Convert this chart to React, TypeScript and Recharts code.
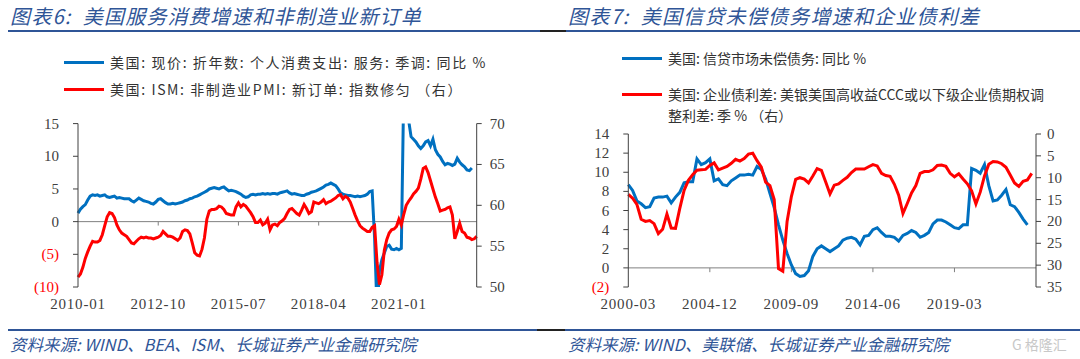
import React from 'react';
import { LineChart, Line, XAxis, YAxis, ReferenceLine } from 'recharts';

// ---------- Chart 6 (monthly, 2010-01 .. 2023-09) ----------
const monthCats: string[] = (() => {
  const out: string[] = [];
  for (let i = 0; i < 165; i++) {
    const y = 2010 + Math.floor(i / 12);
    const m = (i % 12) + 1;
    out.push(`${y}-${String(m).padStart(2, '0')}`);
  }
  return out;
})();

const pceServicesYoY = [
  1.3, 1.9, 2.3, 2.6, 3.3, 3.9, 4.1, 4.0, 4.1, 3.9,
  4.0, 4.1, 3.8, 3.7, 3.8, 3.9, 3.6, 3.7, 3.6, 3.5,
  3.5, 3.5, 3.2, 3.0, 3.3, 3.6, 3.4, 3.2, 3.1, 3.0,
  2.8, 2.7, 3.0, 3.4, 3.5, 3.2, 2.9, 2.7, 2.7, 2.8,
  2.7, 2.8, 2.9, 3.0, 3.2, 3.3, 3.5, 3.6, 3.8, 3.9,
  4.1, 4.3, 4.5, 4.7, 5.0, 5.1, 5.2, 5.1, 5.0, 5.2,
  5.3, 5.0, 4.7, 4.8, 4.7, 4.6, 4.4, 4.2, 3.9, 3.7,
  3.8, 4.1, 4.2, 4.1, 4.2, 4.2, 4.3, 4.2, 4.3, 4.2,
  4.3, 4.3, 4.2, 4.4, 4.5, 4.6, 4.7, 4.4, 4.2, 4.3,
  4.2, 4.1, 4.0, 4.0, 4.2, 4.3, 4.5, 4.6, 4.7, 4.9,
  5.1, 5.3, 5.6, 5.7, 5.9, 5.7, 5.5, 5.0, 4.4, 4.2,
  4.1, 4.0, 4.0, 3.9, 3.8, 3.9, 3.8, 3.9, 4.0, 4.2,
  4.6, 4.7, -2.5, -13.5, -7.5, -5.8, -4.8, -3.8, -3.6, -4.2,
  -4.3, -4.1, -4.3, -4.1, 20.5, 17.0, 15.5, 13.0, 12.6, 12.2,
  11.6, 11.2, 11.6, 12.2, 12.4, 11.6, 12.6, 11.0, 10.3, 9.9,
  9.2, 8.7, 8.9, 8.8, 8.6, 8.8, 9.7, 9.1, 8.7, 8.4,
  7.9, 7.8, 8.2,
];

const ismNonMfgNewOrders = [
  51.2, 51.6, 52.4, 53.5, 54.3, 55.0, 55.6, 55.5, 55.5, 55.7,
  56.4, 57.5, 58.6, 59.1, 59.0, 58.5, 57.6, 57.0, 56.6, 56.4,
  56.2, 55.8, 55.4, 55.3, 55.6, 55.9, 56.1, 56.0, 56.1, 56.0,
  56.0, 55.9, 56.0, 56.1, 56.3, 56.8, 56.5, 56.2, 56.2, 56.1,
  55.9, 55.7, 56.0, 56.8, 57.0, 56.9, 56.5, 55.4, 54.2, 53.9,
  53.8, 54.6, 56.0, 58.3, 59.3, 59.5, 59.5, 59.6, 59.9, 59.8,
  59.5, 59.0, 58.9, 58.8, 58.8, 59.8, 60.3, 59.8, 60.1, 59.9,
  59.5, 59.1, 58.6, 57.9, 57.9, 58.2, 57.6, 57.8, 58.3, 57.0,
  57.6, 57.7, 57.5, 57.9, 58.1, 58.4, 59.0, 59.5, 59.6, 59.3,
  59.0, 58.8, 59.4, 60.1, 59.6, 59.0, 59.2, 60.4, 60.3, 60.2,
  60.4, 60.7, 60.2, 60.4, 60.5, 60.7, 60.9, 61.2, 61.3, 60.8,
  61.1, 60.9, 60.4, 59.6, 58.8, 58.1, 57.5, 57.2, 57.0, 56.8,
  56.8, 57.3, 57.5, 53.0, 50.3, 51.5, 54.5, 55.8, 56.6, 57.0,
  57.1, 57.4, 58.3, 57.6, 58.9, 60.0, 60.5, 60.9, 61.4, 61.7,
  62.1, 63.2, 64.5, 64.7, 64.0, 63.0, 62.0, 61.0, 60.2, 59.3,
  59.4, 59.5, 59.7, 59.8, 58.8, 55.9, 56.8, 57.8, 56.8, 56.6,
  56.1, 56.0, 55.8, 55.9, 56.2,
];

const leftXTicks = ['2010-01', '2012-10', '2015-07', '2018-04', '2021-01'];
const leftYTicks = [-10, -5, 0, 5, 10, 15];
const leftY2Ticks = [50, 55, 60, 65, 70];

// ---------- Chart 7 (quarterly, 2000-03 .. 2023-12) ----------
const quarterCats: string[] = (() => {
  const out: string[] = [];
  for (let i = 0; i < 96; i++) {
    const y = 2000 + Math.floor(i / 4);
    const m = ((i % 4) + 1) * 3;
    out.push(`${y}-${String(m).padStart(2, '0')}`);
  }
  return out;
})();

const creditDebtYoY = [
  8.7, 8.1, 7.0, 6.7, 6.3, 6.4, 7.3, 7.4, 7.4, 7.5,
  6.8, 7.4, 7.9, 8.9, 9.0, 9.0, 11.4, 10.8, 11.0, 11.4,
  9.1, 9.3, 8.7, 8.6, 9.1, 9.4, 9.7, 9.7, 9.8, 9.7,
  10.6, 10.3, 9.3, 7.8, 6.3, 4.5, 2.9, 1.5, 0.3, -0.6,
  -0.9, -0.8, -0.3, 1.2, 2.0, 2.3, 2.0, 1.7, 2.0, 2.3,
  2.9, 3.1, 3.2, 3.0, 2.4, 3.3, 3.4, 4.0, 4.2, 3.7,
  3.3, 3.3, 3.2, 2.8, 3.4, 3.6, 3.9, 3.7, 3.2, 3.4,
  3.7, 4.6, 5.0, 5.0, 4.8, 4.5, 4.2, 4.1, 4.5, 4.5,
  10.4, 10.2, 9.9, 10.8, 8.6, 7.0, 7.1, 7.6, 8.2, 6.6,
  6.4, 5.8, 5.1, 4.5,
];

const cccSpread = [
  13.8, 14.7, 16.1, 19.5, 20.0, 19.8, 20.5, 22.8, 21.8, 18.3,
  21.5, 21.6, 17.0, 12.9, 10.6, 9.3, 8.3, 8.2, 8.1, 7.2,
  6.6, 8.2, 7.8, 7.4, 6.7, 5.8, 6.2, 5.6, 4.6, 4.4,
  6.1, 7.6, 11.0, 11.8, 15.0, 30.8, 31.4, 20.0, 14.3, 10.4,
  10.0, 10.3, 11.2, 9.6, 7.9, 8.3, 11.0, 13.7, 11.7, 11.4,
  10.6, 9.9, 8.8, 8.0, 8.0, 8.0, 7.5, 7.0, 7.3, 9.0,
  9.5, 9.7, 11.5, 14.0, 18.2, 15.9, 13.5, 11.8, 9.0, 8.6,
  8.6, 8.2, 7.2, 7.1, 7.4, 9.0, 9.8, 9.1, 10.3, 11.4,
  13.0, 16.0, 13.3, 9.6, 6.9, 6.3, 6.4, 6.8, 7.6, 9.4,
  11.2, 12.0, 10.8, 10.5, 9.0,
];

const rightXTicks = ['2000-03', '2004-12', '2009-09', '2014-06', '2019-03'];
const rightYTicks = [-2, 0, 2, 4, 6, 8, 10, 12, 14];
const rightY2Ticks = [0, 5, 10, 15, 20, 25, 30, 35];

const leftData = monthCats.map((d, i) => ({
  date: d,
  pce: i < pceServicesYoY.length ? pceServicesYoY[i] : null,
  ism: i < ismNonMfgNewOrders.length ? ismNonMfgNewOrders[i] : null,
}));

const rightData = quarterCats.map((d, i) => ({
  date: d,
  credit: i < creditDebtYoY.length ? creditDebtYoY[i] : null,
  ccc: i < cccSpread.length ? cccSpread[i] : null,
}));

const BLUE = '#0070C0';
const RED = '#FF0000';
const AXIS = '#404040';
const TITLE = '#2F5597';
const SERIF = "'Liberation Serif', 'Times New Roman', serif";
const CJK = "'Noto Sans CJK SC', sans-serif";

const fmtNeg = (v: number) => (v < 0 ? `(${Math.abs(v)})` : `${v}`);

const LeftYTick = (props: any) => {
  const { x, y, payload } = props;
  const v = payload.value as number;
  return (
    <text x={x} y={y} dy={5} textAnchor="end" fill={v < 0 ? RED : AXIS} fontSize={15} fontFamily={SERIF}>
      {fmtNeg(v)}
    </text>
  );
};

const RightYTick = (props: any) => {
  const { x, y, payload } = props;
  return (
    <text x={x} y={y} dy={5} textAnchor="start" fill={AXIS} fontSize={15} fontFamily={SERIF}>
      {payload.value}
    </text>
  );
};

const XTick = (props: any) => {
  const { x, y, payload } = props;
  return (
    <text x={x} y={y} dy={22} textAnchor="middle" fill={AXIS} fontSize={15} fontFamily={SERIF} letterSpacing={0.8}>
      {payload.value}
    </text>
  );
};

const LegendRow = ({ left, top, color, text, spacing }: { left: number; top: number; color: string; text: string; spacing: number }) => (
  <div style={{ position: 'absolute', left, top: top - 10, height: 20, display: 'flex', alignItems: 'center' }}>
    <div style={{ width: 40, height: 3, background: color, marginRight: 6 }} />
    <span style={{ fontFamily: CJK, fontSize: 14, color: '#333', whiteSpace: 'nowrap', lineHeight: '20px', letterSpacing: spacing }}>{text}</span>
  </div>
);

const titleStyle: React.CSSProperties = {
  position: 'absolute', top: 3, fontFamily: CJK, fontSize: 20, fontStyle: 'italic', color: TITLE,
  whiteSpace: 'nowrap', lineHeight: '26px', letterSpacing: 1.2, fontWeight: 400,
};

const footStyle: React.CSSProperties = {
  position: 'absolute', top: 332, fontFamily: CJK, fontSize: 16.5, fontStyle: 'italic', color: TITLE,
  whiteSpace: 'nowrap', lineHeight: '24px',
};

export default function App() {
  return (
    <div style={{ position: 'absolute', left: 0, top: 0, width: 1080, height: 359, background: '#fff', overflow: 'hidden' }}>
      {/* Titles */}
      <div style={{ ...titleStyle, left: 10 }}>图表6:&nbsp;&nbsp;美国服务消费增速和非制造业新订单</div>
      <div style={{ ...titleStyle, left: 568 }}>图表7:&nbsp;&nbsp;美国信贷未偿债务增速和企业债利差</div>
      <div style={{ position: 'absolute', left: 8, top: 30, width: 532, height: 2, background: TITLE }} />
      <div style={{ position: 'absolute', left: 540, top: 30, width: 26, height: 2, background: '#222' }} />
      <div style={{ position: 'absolute', left: 566, top: 30, width: 514, height: 2, background: TITLE }} />

      {/* Legends */}
      <LegendRow left={64} top={62} color={BLUE} spacing={1.6} text="美国: 现价: 折年数: 个人消费支出: 服务: 季调: 同比 %" />
      <LegendRow left={64} top={89} color={RED} spacing={1.6} text="美国: ISM: 非制造业PMI: 新订单: 指数修匀 （右）" />
      <LegendRow left={622} top={58} color={BLUE} spacing={0} text="美国: 信贷市场未偿债务: 同比 %" />
      <LegendRow left={622} top={94} color={RED} spacing={0} text="美国: 企业债利差: 美银美国高收益CCC或以下级企业债期权调" />
      <div style={{ position: 'absolute', left: 668, top: 105, height: 20, fontFamily: CJK, fontSize: 14, color: '#333', whiteSpace: 'nowrap', lineHeight: '20px' }}>
        整利差: 季 % （右）
      </div>

      {/* Left chart */}
      <div style={{ position: 'absolute', left: 0, top: 0 }}>
        <LineChart width={540} height={320} data={leftData} margin={{ top: 123.6, left: 38, right: 23.3, bottom: 3 }}>
          <XAxis dataKey="date" ticks={leftXTicks} interval={0} axisLine={false} tickLine={false} tickSize={0} tickMargin={0} height={30} tick={<XTick />} />
          <YAxis yAxisId="left" domain={[-10, 15]} ticks={leftYTicks} interval={0} allowDataOverflow width={40} axisLine={{ stroke: AXIS }} tickLine={{ stroke: AXIS }} tickSize={5} tickMargin={14} tick={<LeftYTick />} />
          <YAxis yAxisId="right" orientation="right" domain={[50, 70]} ticks={leftY2Ticks} interval={0} allowDataOverflow width={40} axisLine={{ stroke: AXIS }} tickLine={{ stroke: AXIS }} tickSize={5} tickMargin={8} tick={<RightYTick />} />
          <ReferenceLine yAxisId="left" y={0} stroke="#808080" strokeWidth={1} />
          {leftXTicks.slice(1).map((t) => (
            <ReferenceLine key={t} yAxisId="left" segment={[{ x: t, y: 0 }, { x: t, y: -0.6 }]} stroke="#808080" />
          ))}
          <Line yAxisId="left" dataKey="pce" stroke={BLUE} strokeWidth={3} dot={false} isAnimationActive={false} type="linear" />
          <Line yAxisId="right" dataKey="ism" stroke={RED} strokeWidth={3} dot={false} isAnimationActive={false} type="linear" />
        </LineChart>
      </div>

      {/* Right chart */}
      <div style={{ position: 'absolute', left: 540, top: 0 }}>
        <LineChart width={540} height={320} data={rightData} margin={{ top: 134, left: 48.3, right: 4, bottom: 3 }}>
          <XAxis dataKey="date" ticks={rightXTicks} interval={0} axisLine={false} tickLine={false} tickSize={0} tickMargin={0} height={30} tick={<XTick />} />
          <YAxis yAxisId="left" domain={[-2, 14]} ticks={rightYTicks} interval={0} allowDataOverflow width={40} axisLine={{ stroke: AXIS }} tickLine={{ stroke: AXIS }} tickSize={5} tickMargin={14} tick={<LeftYTick />} />
          <YAxis yAxisId="right" orientation="right" reversed domain={[0, 35]} ticks={rightY2Ticks} interval={0} allowDataOverflow width={40} axisLine={{ stroke: AXIS }} tickLine={{ stroke: AXIS }} tickSize={5} tickMargin={6} tick={<RightYTick />} />
          <ReferenceLine yAxisId="left" y={0} stroke="#808080" strokeWidth={1} />
          {rightXTicks.slice(1).map((t) => (
            <ReferenceLine key={t} yAxisId="left" segment={[{ x: t, y: 0 }, { x: t, y: -0.45 }]} stroke="#808080" />
          ))}
          <Line yAxisId="left" dataKey="credit" stroke={BLUE} strokeWidth={3} dot={false} isAnimationActive={false} type="linear" />
          <Line yAxisId="right" dataKey="ccc" stroke={RED} strokeWidth={3} dot={false} isAnimationActive={false} type="linear" />
        </LineChart>
      </div>

      {/* Footer */}
      <div style={{ position: 'absolute', left: 8, top: 329, width: 529, height: 2, background: TITLE }} />
      <div style={{ position: 'absolute', left: 537, top: 329, width: 28, height: 2, background: '#222' }} />
      <div style={{ position: 'absolute', left: 565, top: 329, width: 515, height: 2, background: TITLE }} />
      <div style={{ ...footStyle, left: 10 }}>资料来源: WIND、BEA、ISM、长城证券产业金融研究院</div>
      <div style={{ ...footStyle, left: 568 }}>资料来源: WIND、美联储、长城证券产业金融研究院</div>
      <div style={{ position: 'absolute', left: 1012, top: 334, fontFamily: CJK, fontSize: 14, color: '#c8c8c8', whiteSpace: 'nowrap', lineHeight: '20px' }}>
        G 格隆汇
      </div>
    </div>
  );
}
